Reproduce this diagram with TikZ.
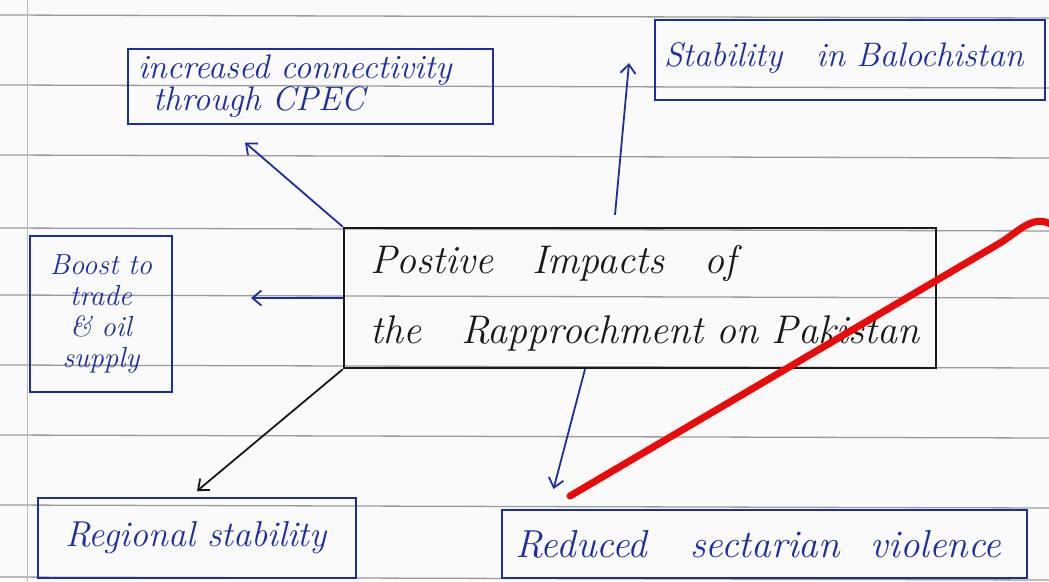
\documentclass[tikz,border=0pt]{standalone}
\usetikzlibrary{arrows.meta,calc}
\definecolor{ink}{RGB}{30,45,160}
\definecolor{pen}{RGB}{25,25,25}
\definecolor{rulecol}{RGB}{155,155,155}
\definecolor{redmark}{RGB}{235,10,10}
\definecolor{paper}{RGB}{250,250,250}
\begin{document}
\begin{tikzpicture}[x=1pt,y=-1pt,
  box/.style={draw=ink, line width=2pt, rectangle, inner sep=0pt, text=ink, align=left},
  mainbox/.style={draw=pen, line width=2.4pt, rectangle, inner sep=0pt, text=pen, align=left},
  arr/.style={line width=1.8pt, -{Straight Barb[length=9pt,width=15pt]}},
  paperline/.style={rulecol, line width=1.3pt}]
\fill[paper] (0,0) rectangle (1049,581);
\useasboundingbox (0,0) rectangle (1049,581);
\foreach \y in {15,85,155,228,295,365,435,505,577}
  \draw[paperline] (0,\y) -- (1049,\y+3);
\draw[rulecol!70, line width=0.8pt] (27,0) -- (27,581);

\node[box, minimum width=365pt, minimum height=75pt, text width=344pt,
  font=\itshape\fontsize{34}{28}\selectfont] (conn) at (310,86)
  {increased connectivity\\\hspace*{15pt}through CPEC};
\node[box, minimum width=390pt, minimum height=80pt, text width=372pt,
  font=\itshape\fontsize{34}{30}\selectfont] (stab) at (850,60)
  {\raisebox{10pt}{Stability\quad in Balochistan}};
\node[mainbox, minimum width=592pt, minimum height=140pt, text width=540pt,
  font=\itshape\fontsize{40}{70}\selectfont] (ctr) at (640,298)
  {\raisebox{-4pt}{Postive\hspace{26pt} Impacts\hspace{26pt} of}\\\raisebox{-4pt}{the\quad Rapprochment on Pakistan}};
\node[box, align=center, minimum width=142pt, minimum height=156pt, text width=140pt,
  font=\itshape\fontsize{29}{31}\selectfont] (boost) at (101,314)
  {Boost to\\trade\\\& oil\\supply};
\node[box, minimum width=318pt, minimum height=80pt, text width=264pt,
  font=\itshape\fontsize{36}{30}\selectfont] (reg) at (197,538)
  {\raisebox{4pt}{Regional stability}};
\node[box, minimum width=525pt, minimum height=68pt, text width=498pt,
  font=\itshape\fontsize{39}{30}\selectfont] (red) at (764,544)
  {\mbox{Reduced\hspace{30pt} sectarian\hspace{18pt} violence}};

\draw[arr, ink] (ctr.north west) -- ($(conn.south)+(-65,18)$);
\draw[arr, ink] ($(ctr.north)+(-25,-12)$) -- ($(stab.south west)+(-25,-38)$);
\draw[arr, ink] (ctr.west) -- ($(boost.east)+(78,-16)$);
\draw[arr, pen] (ctr.south west) -- ($(reg.north)+(0,-6)$);
\draw[arr, ink] ($(ctr.south)+(-55,0)$) -- ($(red.north west)+(53,-20)$);

\draw[redmark, line width=7pt, line cap=round]
  (570,496) -- (1000,243) .. controls (1017,233) and (1033,213) .. (1052,225);
\end{tikzpicture}
\end{document}
